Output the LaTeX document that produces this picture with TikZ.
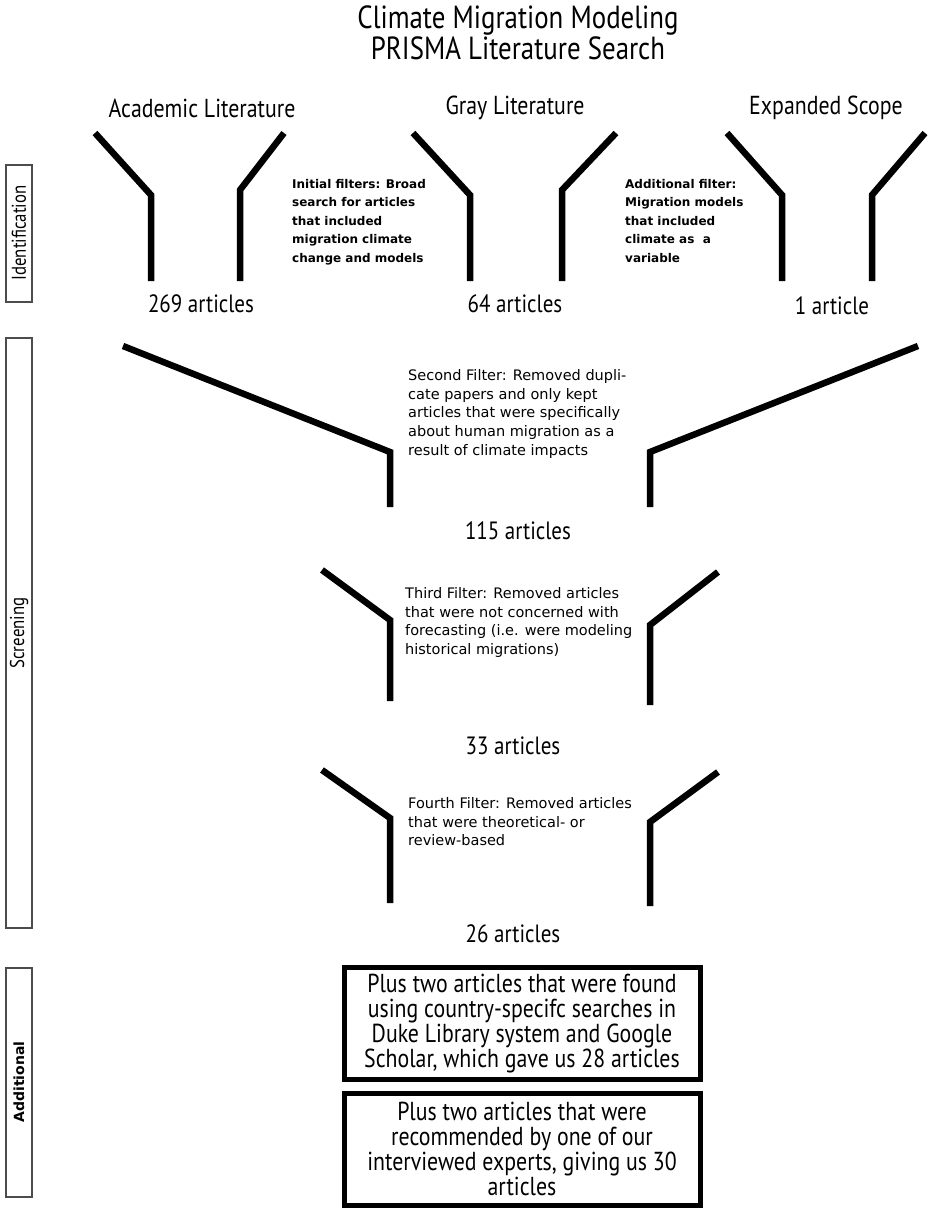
\documentclass[tikz,border=0pt]{standalone}
\usepackage{fontspec}
\setmainfont{PT Sans}[FakeStretch=0.84]
\newfontfamily\filterfont{DejaVu Sans}
\newfontfamily\wideside{DejaVu Sans}
\begin{document}
\begin{tikzpicture}[x=1pt,y=-1pt,
  funnel/.style={line width=6.5pt,line cap=butt,line join=miter},
  sidebox/.style={draw=black!70,line width=1.6pt,fill=white},
  sidelabel/.style={rotate=90,font=\fontsize{20}{20}\selectfont},
  head/.style={font=\fontsize{26}{26}\selectfont},
  count/.style={font=\fontsize{25}{25}\selectfont},
  smalltxt/.style={align=left,anchor=north west,inner sep=0pt,font=\filterfont\fontsize{12}{18.5}\selectfont\bfseries},
  filtertxt/.style={align=left,anchor=north west,inner sep=0pt,font=\filterfont\fontsize{14.5}{18.8}\selectfont},
  addbox/.style={draw,line width=5pt,align=center,minimum width=356pt,minimum height=112pt,inner sep=2pt,font=\fontsize{26}{25}\selectfont}
]
\useasboundingbox (0,0) rectangle (935,1213);
% title
\node[align=center,font=\fontsize{32}{31}\selectfont] (title) at (518,33) {Climate Migration Modeling\\PRISMA Literature Search};
% headings
\node[head] (acad) at (202,108) {Academic Literature};
\node[head] (gray) at (515,108) {Gray Literature};
\node[head] (exp) at (826,108) {Expanded Scope};
% identification funnels
\draw[funnel] (95,133) -- (151,195) -- (151,281);
\draw[funnel] (284,133) -- (240,190) -- (240,281);
\draw[funnel] (413,133) -- (470,195) -- (470,281);
\draw[funnel] (616,133) -- (562,190) -- (562,281);
\draw[funnel] (727,133) -- (782,195) -- (782,281);
\draw[funnel] (925,133) -- (872,195) -- (872,281);
\node[smalltxt] (f1) at (292,179) {Initial filters: Broad\\search for articles\\that included\\migration climate\\change and models};
\node[smalltxt] (f1b) at (625,179) {Additional filter:\\Migration models\\that included\\climate as\ \ a\\variable};
\node[count] (c269) at (201,304) {269 articles};
\node[count] (c64) at (515,304) {64 articles};
\node[count] (c1) at (832,306) {1 article};
% second funnel
\draw[funnel] (123,346) -- (390,452) -- (390,507);
\draw[funnel] (918,346) -- (650,452) -- (650,507);
\node[filtertxt] (f2) at (408,369) {Second Filter: Removed dupli-\\cate papers and only kept\\articles that were specifically\\about human migration as a\\result of climate impacts};
\node[count] (c115) at (518,531) {115 articles};
% third funnel
\draw[funnel] (322,570) -- (390,620) -- (390,701);
\draw[funnel] (718,572) -- (650,625) -- (650,705);
\node[filtertxt] (f3) at (405,587) {Third Filter: Removed articles\\that were not concerned with\\forecasting (i.e. were modeling\\historical migrations)};
\node[count] (c33) at (513,746) {33 articles};
% fourth funnel
\draw[funnel] (322,770) -- (390,818) -- (390,903);
\draw[funnel] (718,772) -- (650,822) -- (650,906);
\node[filtertxt] (f4) at (408,797) {Fourth Filter: Removed articles\\that were theoretical- or\\review-based};
\node[count] (c26) at (513,934) {26 articles};
% additional boxes
\node[addbox] (b1) at (522,1023.5) {Plus two articles that were found\\using country-specifc searches in\\Duke Library system and Google\\Scholar, which gave us 28 articles};
\node[addbox] (b2) at (522,1149) {Plus two articles that were\\recommended by one of our\\interviewed experts, giving us 30\\articles};
% side boxes
\draw[sidebox] (6,165) rectangle (32,302);
\node[sidelabel] (sid) at (19,233) {Identification};
\draw[sidebox] (6,338) rectangle (32,928);
\node[sidelabel] (sscr) at (19,633) {Screening};
\draw[sidebox] (6,968) rectangle (32,1197);
\node[sidelabel,font=\wideside\fontsize{14}{14}\selectfont\bfseries] (sadd) at (19,1082) {Additional};
\end{tikzpicture}
\end{document}
